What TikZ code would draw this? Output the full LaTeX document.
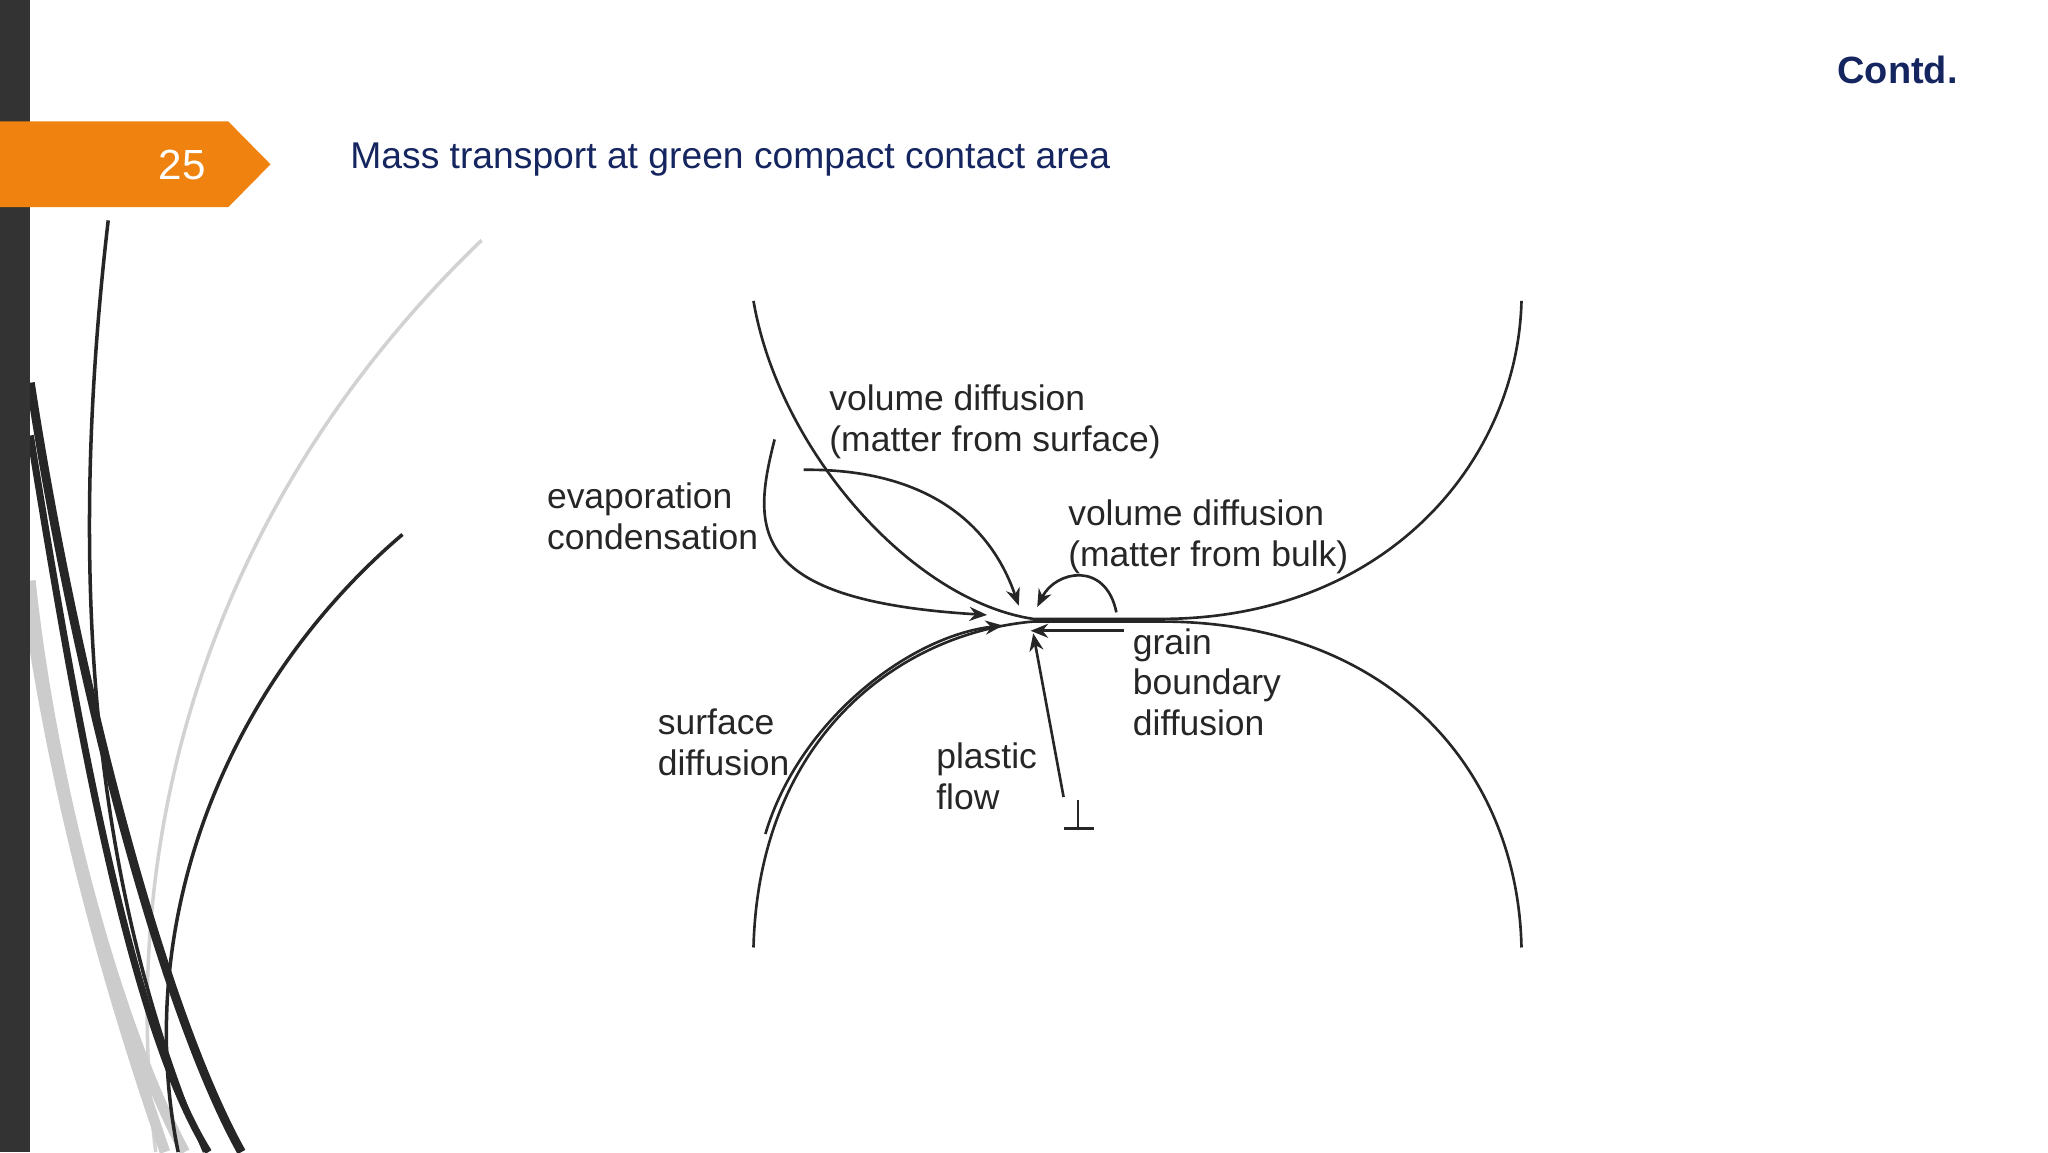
\documentclass[tikz,border=0pt]{standalone}
\usepackage{fontspec}
\setmainfont{Liberation Sans}
\usetikzlibrary{arrows.meta}
\definecolor{navy}{HTML}{14255F}
\definecolor{orng}{HTML}{F0820F}
\definecolor{barc}{HTML}{333333}
\begin{document}
\begin{tikzpicture}[x=0.013196cm,y=-0.013196cm,
  lbl/.style={anchor=west,inner sep=0pt,align=left,font=\fontsize{10.1}{11.6}\selectfont,text=black!85},
  ln/.style={line width=0.75pt,black!85},
  arr/.style={ln,-{Stealth[length=5pt,width=4pt]}}]
\useasboundingbox (0,0) rectangle (1552,873);
% decorative curves
\draw[gray!35,line width=1pt] (365,182) .. controls (180,360) and (85,600) .. (118,873);
\draw[gray!40,line width=3pt] (23,440) .. controls (40,600) and (90,780) .. (140,873);
\draw[gray!40,line width=3pt] (23,470) .. controls (50,650) and (100,800) .. (125,873);
\draw[black!85,line width=1pt] (82,167) .. controls (55,400) and (60,650) .. (155,873);
\draw[black!85,line width=2.5pt] (23,290) .. controls (55,500) and (120,760) .. (183,873);
\draw[black!85,line width=2pt] (23,330) .. controls (60,560) and (100,780) .. (158,873);
\draw[black!85,line width=1pt] (305,405) .. controls (170,520) and (100,700) .. (135,873);
% left bar
\fill[barc] (0,0) rectangle (23,873);
% orange tab
\fill[orng] (0,92) -- (173,92) -- (205,124.5) -- (173,157) -- (0,157) -- cycle;
\node[text=white,font=\fontsize{12}{14}\selectfont] (num) at (138,125) {25};
\node[anchor=west,inner sep=0pt,text=navy,font=\fontsize{10.6}{12}\selectfont] (title) at (265,121) {Mass transport at green compact contact area};
\node[anchor=east,inner sep=0pt,text=navy,font=\bfseries\fontsize{10.8}{12}\selectfont] (contd) at (1484,53) {Contd.};
% grains
\coordinate (cu) at (783,469);
\coordinate (cl) at (783,471);
\draw[ln] (571,228) .. controls (590,340) and (690,455) .. (cu) -- (880,469)
  .. controls (1050,469) and (1150,350) .. (1153,228);
\draw[ln] (571,718) .. controls (575,560) and (680,480) .. (cl) -- (880,471)
  .. controls (1050,471) and (1150,580) .. (1153,718);
% labels
\node[lbl] (vds) at (628,319.5) {volume diffusion\\(matter from surface)};
\node[lbl] (ec) at (414,391.5) {evaporation\\condensation};
\node[lbl] (vdb) at (809,406.5) {volume diffusion\\(matter from bulk)};
\node[lbl] (gb) at (858,517) {grain\\boundary\\diffusion};
\node[lbl] (sd) at (498,562.5) {surface\\diffusion};
\node[lbl] (pf) at (709,588.5) {plastic\\flow};
% arrows
\coordinate (e0) at (587,333); \coordinate (e1) at (748,466);
\draw[arr] (e0) .. controls (570,400) and (565,455) .. (e1);
\coordinate (s0) at (609,356); \coordinate (s1) at (772,459);
\draw[arr] (s0) .. controls (700,355) and (750,395) .. (s1);
\coordinate (b0) at (846,464); \coordinate (b1) at (786,460);
\draw[arr] (b0) .. controls (838,425) and (800,432) .. (b1);
\coordinate (g0) at (852,478); \coordinate (g1) at (781,478);
\draw[arr] (g0) -- (g1);
\coordinate (p0) at (806,604); \coordinate (p1) at (783,480);
\draw[arr] (p0) -- (p1);
\coordinate (d0) at (580,632); \coordinate (d1) at (760,474);
\draw[arr] (d0) .. controls (606,545) and (690,482) .. (d1);
% dislocation
\coordinate (t0) at (817,606); \coordinate (t1) at (817,628);
\draw[ln] (t0) -- (t1) (806,628) -- (829,628);
\end{tikzpicture}
\end{document}
